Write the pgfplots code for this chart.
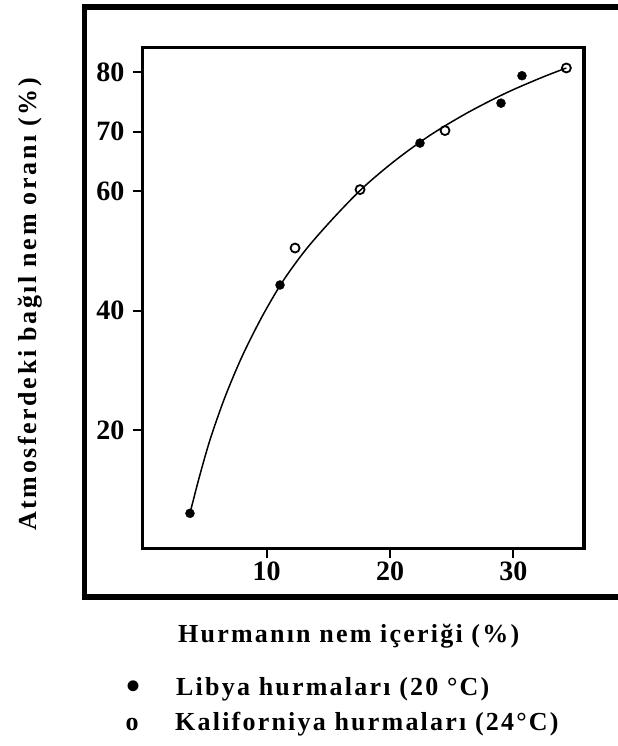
\documentclass[border=0pt]{standalone}
\usepackage{fontspec}
\setmainfont{Liberation Serif}
\newfontfamily\lsfont[LetterSpace=8.5]{Liberation Serif}
\newfontfamily\lsyfont[LetterSpace=10]{Liberation Serif}
\usepackage{pgfplots}
\pgfplotsset{compat=1.18}

\begin{document}
\begin{tikzpicture}
\useasboundingbox (0,0) rectangle (618bp,-746bp);
\draw[line width=5.5bp] (84.5bp,-7bp) rectangle (640bp,-597bp);
\begin{axis}[
  at={(142.5bp,-548.5bp)}, anchor=south west,
  scale only axis, width=441.5bp, height=500.8bp,
  xmin=-0.07, xmax=35.73, ymin=0.1, ymax=84.1,
  axis line style={line width=3.5bp},
  xtick={10,20,30}, ytick={20,40,60,70,80},
  tick align=outside, major tick length=9bp,
  xtick pos=left, ytick pos=left,
  tick style={line width=2bp, black},
  ticklabel style={font=\fontsize{28bp}{30bp}\selectfont\bfseries},
  /pgf/number format/assume math mode=true,
  yticklabel style={anchor=east, inner sep=0pt, xshift=-9bp},
  xticklabel style={anchor=north, inner sep=0pt, yshift=-4bp},
  clip=false,
]
\addplot[smooth, line width=1.5bp, black] coordinates {
(3.78,6.0)(4.5,11.8)(5.4,18.3)(6.6,25.4)(8.0,32.3)(9.6,38.9)(11.3,44.9)(13.2,50.3)(15.4,55.5)(17.8,60.6)(20.4,65.15)(23.2,69.35)(26.2,73.1)(29.4,76.5)(32.3,79.1)(34.3,80.7)
};
\addplot[only marks, mark=*, mark size=4.5bp, black] coordinates {
(3.78,6.0)(11.08,44.3)(22.43,68.1)(29.0,74.8)(30.7,79.4)
};
\addplot[only marks, mark=o, mark size=4.5bp, mark options={line width=1.8bp, fill=white}, black] coordinates {
(12.3,50.5)(17.57,60.3)(24.46,70.2)(34.3,80.7)
};
\end{axis}
\node[anchor=base west, inner sep=0pt, rotate=90, font={\fontsize{26bp}{30bp}\lsyfont\bfseries}] at (36bp,-531bp) {Atmosferdeki bağıl nem oranı (\%)};
\node[anchor=base west, inner sep=0pt, font={\fontsize{26bp}{30bp}\lsfont\bfseries}] at (178bp,-642bp) {Hurmanın nem içeriği (\%)};
\node[anchor=center, inner sep=0pt, font={\fontsize{40bp}{40bp}\selectfont\bfseries}] at (133bp,-690bp) {•};
\node[anchor=base west, inner sep=0pt, font={\fontsize{26bp}{30bp}\lsfont\bfseries}] at (176bp,-695bp) {Libya hurmaları (20 °C)};
\node[anchor=base, inner sep=0pt, font={\fontsize{26bp}{30bp}\selectfont\bfseries}] at (132bp,-730bp) {o};
\node[anchor=base west, inner sep=0pt, font={\fontsize{26bp}{30bp}\lsfont\bfseries}] at (175bp,-730bp) {Kaliforniya hurmaları (24°C)};
\end{tikzpicture}
\end{document}
